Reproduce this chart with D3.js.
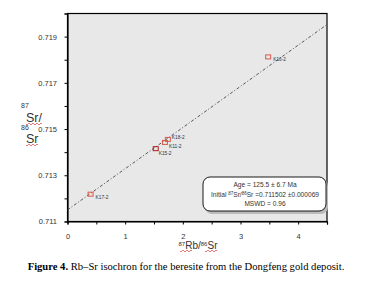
<!DOCTYPE html>
<html>
<head>
<meta charset="utf-8">
<script src="https://cdn.jsdelivr.net/npm/d3@7"></script>
<style>
body { margin: 0; background: #fff; }
svg { display: block; }
</style>
</head>
<body>
<svg id="chart" width="371" height="295"></svg>
<script>
let samples = ["K16-2", "K18-2", "K11-2", "K15-2", "K17-2"];
let rbSr = [3.48, 1.74, 1.69, 1.53, 0.40];
let srSr = [0.71810, 0.71453, 0.71440, 0.71413, 0.71216];
let xTicks = [0, 1, 2, 3, 4];
let yTicks = [0.711, 0.713, 0.715, 0.717, 0.719];
let isoIntercept = 0.711502;
let isoSlope = 0.001782;
let infoLines = ["Age = 125.5 ± 6.7 Ma", "Initial 87Sr/86Sr =0.711502 ±0.000069", "MSWD = 0.96"];

let svg = d3.select("#chart");
let x = d3.scaleLinear().domain([0, 4.5]).range([67.5, 327]);
let y = d3.scaleLinear().domain([0.711, 0.720]).range([221.5, 13.5]);
let ff = "Arial, 'Liberation Sans', sans-serif";

// plot background
svg.append("rect")
    .attr("x", x(0)).attr("y", y(0.720))
    .attr("width", x(4.5) - x(0)).attr("height", y(0.711) - y(0.720))
    .attr("fill", "#e8e8e8")
    .attr("stroke", "#000").attr("stroke-width", 1.2);

let axisFont = (g) => {
    g.selectAll("text").attr("font-family", ff)
        .attr("font-size", 7.5).attr("fill", "#333");
    g.select(".domain").attr("stroke", "#000").attr("stroke-width", 1.2);
};

let xAxis = svg.append("g")
    .attr("transform", "translate(0," + y(0.711) + ")")
    .call(d3.axisBottom(x).tickValues(d3.range(0, 4.51, 0.5)).tickSize(3)
        .tickFormat((d) => xTicks.includes(d) ? d : ""));
xAxis.call(axisFont);
xAxis.selectAll("text").attr("y", 17).attr("dy", 0);

let yAxis = svg.append("g")
    .attr("transform", "translate(" + x(0) + ",0)")
    .call(d3.axisLeft(y).tickValues(d3.range(0.711, 0.7201, 0.001)).tickSize(3)
        .tickFormat((d) => yTicks.some((t) => Math.abs(t - d) < 1e-7) ? d3.format(".3f")(d) : ""));
yAxis.call(axisFont);
yAxis.selectAll("text").attr("dx", "-0.6em");

// isochron line
svg.append("line")
    .attr("x1", x(0)).attr("y1", y(isoIntercept))
    .attr("x2", x(4.5)).attr("y2", y(isoIntercept + isoSlope * 4.5))
    .attr("stroke", "#444").attr("stroke-width", 0.9)
    .attr("stroke-dasharray", "3,2,1,2");

// points
let pts = samples.map((s, i) => ({name: s, x: rbSr[i], y: srSr[i]}));
let labelOff = {"K16-2": [5, 4], "K18-2": [4, -1], "K11-2": [4, 5], "K15-2": [3, 6], "K17-2": [5, 4]};
let ptG = svg.selectAll("g.pt").data(pts).enter().append("g")
    .attr("transform", (d) => "translate(" + x(d.x) + "," + y(d.y) + ")");
ptG.append("rect")
    .attr("x", -2.5).attr("y", -2.5).attr("width", 5).attr("height", 4)
    .attr("fill", "none").attr("stroke", (d, i) => i == 3 ? "#b01c1c" : "#d8584a").attr("stroke-width", 1);
ptG.append("text")
    .attr("x", (d) => labelOff[d.name][0]).attr("y", (d) => labelOff[d.name][1])
    .attr("font-family", ff)
    .attr("font-size", 4.8).attr("fill", "#333")
    .text((d) => d.name);

// info box
let box = svg.append("g");
box.append("rect").attr("x", 205).attr("y", 179).attr("width", 123).attr("height", 35)
    .attr("rx", 7).attr("fill", "#bbb");
box.append("rect").attr("x", 203).attr("y", 177).attr("width", 123).attr("height", 34)
    .attr("rx", 7).attr("fill", "#fff").attr("stroke", "#000").attr("stroke-width", 0.9);
let infoT = box.append("text")
    .attr("font-family", ff)
    .attr("font-size", 6.6).attr("fill", "#333").attr("text-anchor", "middle");
infoT.append("tspan").attr("x", 265).attr("y", 187).text(infoLines[0]);
let l2 = infoT.append("tspan").attr("x", 265).attr("y", 196.5);
l2.append("tspan").text("Initial ");
l2.append("tspan").attr("font-size", 4.5).attr("dy", -2).text("87");
l2.append("tspan").attr("dy", 2).text("Sr/");
l2.append("tspan").attr("font-size", 4.5).attr("dy", -2).text("86");
l2.append("tspan").attr("dy", 2).text("Sr =0.711502 ±0.000069");
infoT.append("tspan").attr("x", 265).attr("y", 206).text(infoLines[2]);

// red squiggles (spellcheck marks as in the source)
let squiggle = (x0, y0, w) => {
    let d = "M" + x0 + "," + y0;
    for (let i = 0; i < w; i += 2) d += " l1," + (i % 4 == 0 ? 1 : -1) + " l1," + (i % 4 == 0 ? -1 : 1);
    svg.append("path").attr("d", d).attr("fill", "none").attr("stroke", "#e04040").attr("stroke-width", 0.7);
};

// y title
svg.append("text").attr("x", 21).attr("y", 108).attr("font-family", ff).attr("font-size", 7).attr("fill", "#333").text("87");
svg.append("text").attr("x", 26).attr("y", 121.5).attr("font-family", ff).attr("font-size", 12.5).attr("fill", "#333").text("Sr/");
svg.append("text").attr("x", 21).attr("y", 130).attr("font-family", ff).attr("font-size", 7).attr("fill", "#333").text("86");
svg.append("text").attr("x", 26).attr("y", 143).attr("font-family", ff).attr("font-size", 12.5).attr("fill", "#333").text("Sr");
squiggle(26, 124, 16);
squiggle(26, 145, 12);

// x title
let xt = svg.append("text").attr("x", 198).attr("y", 249).attr("text-anchor", "middle")
    .attr("font-family", ff).attr("font-size", 10).attr("fill", "#333");
xt.append("tspan").attr("font-size", 6).attr("dy", -3.5).text("87");
xt.append("tspan").attr("dy", 3.5).text("Rb/");
xt.append("tspan").attr("font-size", 6).attr("dy", -3.5).text("86");
xt.append("tspan").attr("dy", 3.5).text("Sr");
squiggle(180, 251, 12);
squiggle(205, 251, 12);

// caption
let cap = svg.append("text").attr("x", 186).attr("y", 270).attr("text-anchor", "middle")
    .attr("font-family", "'Liberation Serif', 'Times New Roman', serif").attr("font-size", 10.6).attr("fill", "#000");
cap.append("tspan").attr("font-weight", "bold").text("Figure 4.");
cap.append("tspan").text(" Rb–Sr isochron for the beresite from the Dongfeng gold deposit.");
</script>
</body>
</html>
